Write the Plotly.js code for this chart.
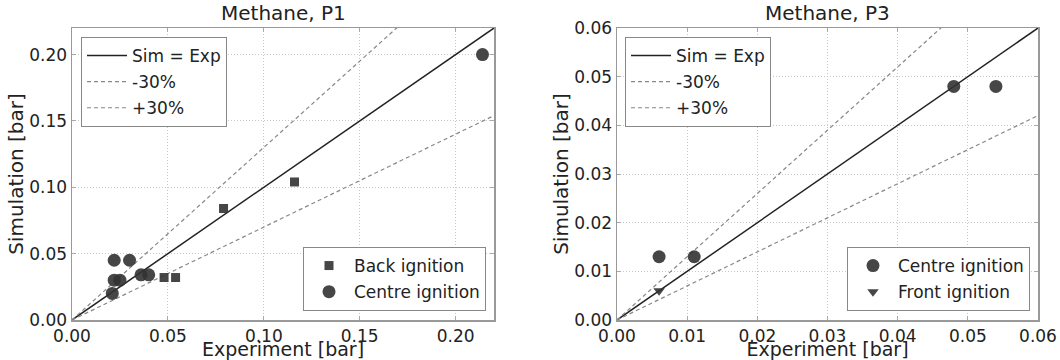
<!DOCTYPE html>
<html><head><meta charset="utf-8">
<script src="https://cdn.plot.ly/plotly-3.0.1.min.js"></script>
<style>html,body{margin:0;padding:0;background:#fff}#chart{width:1060px;height:360px}</style>
</head><body><div id="chart"></div>
<script>
// ---- Data: Methane, P1 ----
const p1BackX   = [0.048, 0.054, 0.079, 0.116];
const p1BackY   = [0.032, 0.032, 0.084, 0.104];
const p1CentreX = [0.022, 0.030, 0.022, 0.025, 0.021, 0.036, 0.040, 0.214];
const p1CentreY = [0.045, 0.045, 0.030, 0.030, 0.020, 0.034, 0.034, 0.200];
// ---- Data: Methane, P3 ----
const p3CentreX = [0.006, 0.011, 0.048, 0.054];
const p3CentreY = [0.013, 0.013, 0.048, 0.048];
const p3FrontX  = [0.006];
const p3FrontY  = [0.006];
// ---- Reference lines ----
const refNames  = ['Sim = Exp', '-30%', '+30%'];
const refRatios = [1.0, 0.7, 1.3];
const p1Range = [0, 0.22];
const p3Range = [0, 0.06];
const p1Ticks = [0, 0.05, 0.10, 0.15, 0.20];
const p3Ticks = [0, 0.01, 0.02, 0.03, 0.04, 0.05, 0.06];
const titles = ['Methane, P1', 'Methane, P3'];

const FONT = 'DejaVu Sans, sans-serif';
const MARK = 'rgba(50,50,50,0.9)';

function refTraces(range, xa, ya, legend) {
  return refRatios.map((r, i) => ({
    type: 'scatter', mode: 'lines', name: refNames[i],
    x: [range[0], range[1]], y: [range[0] * r, range[1] * r],
    xaxis: xa, yaxis: ya, legend: legend, legendgroup: legend + i,
    line: i === 0 ? {color: '#222', width: 1.5} : {color: '#888', width: 1.2, dash: '4px,3px'},
    hoverinfo: 'skip'
  }));
}

const traces = [
  ...refTraces(p1Range, 'x', 'y', 'legend'),
  {type: 'scatter', mode: 'markers', name: 'Back ignition', x: p1BackX, y: p1BackY,
   xaxis: 'x', yaxis: 'y', legend: 'legend2', legendgroup: 'b1',
   marker: {symbol: 'square', size: 9, color: MARK, line: {width: 0}}},
  {type: 'scatter', mode: 'markers', name: 'Centre ignition', x: p1CentreX, y: p1CentreY,
   xaxis: 'x', yaxis: 'y', legend: 'legend2', legendgroup: 'c1',
   marker: {symbol: 'circle', size: 13, color: MARK, line: {width: 0}}},
  ...refTraces(p3Range, 'x2', 'y2', 'legend3'),
  {type: 'scatter', mode: 'markers', name: 'Centre ignition', x: p3CentreX, y: p3CentreY,
   xaxis: 'x2', yaxis: 'y2', legend: 'legend4', legendgroup: 'c3',
   marker: {symbol: 'circle', size: 13, color: MARK, line: {width: 0}}},
  {type: 'scatter', mode: 'markers', name: 'Front ignition', x: p3FrontX, y: p3FrontY,
   xaxis: 'x2', yaxis: 'y2', legend: 'legend4', legendgroup: 'f3',
   marker: {symbol: 'triangle-down', size: 10, color: MARK, line: {width: 0}}}
];

function axis(domain, range, ticks, title, anchor, isX) {
  return {
    domain: domain, range: range, anchor: anchor,
    tickvals: ticks, ticktext: ticks.map(v => v.toFixed(2)),
    showgrid: true, gridcolor: '#c8c8c8', griddash: '1px,2px', gridwidth: 1,
    zeroline: false, showline: true, linecolor: '#999', linewidth: 1.5, mirror: 'ticks',
    ticks: 'inside', ticklen: 4, tickcolor: '#aaa',
    tickfont: {family: FONT, size: 17, color: '#222'},
    title: {text: title, font: {family: FONT, size: isX ? 19 : 20, color: '#222'}, standoff: 0},
    automargin: false, fixedrange: true
  };
}

const legendBase = {
  font: {family: FONT, size: 17, color: '#222'},
  bgcolor: '#fff', bordercolor: '#888', borderwidth: 1,
  tracegroupgap: 1, itemwidth: 40, xref: 'paper', yref: 'paper'
};

const layout = {
  width: 1060, height: 360,
  margin: {l: 0, r: 0, t: 0, b: 0},
  paper_bgcolor: '#fff', plot_bgcolor: '#fff',
  font: {family: FONT, color: '#222'},
  xaxis:  axis([72/1060, 494/1060], p1Range, p1Ticks, 'Experiment [bar]', 'y', true),
  yaxis:  axis([40/360, 332/360], p1Range, p1Ticks, 'Simulation [bar]', 'x', false),
  xaxis2: axis([617/1060, 1038/1060], p3Range, p3Ticks, 'Experiment [bar]', 'y2', true),
  yaxis2: axis([40/360, 332/360], p3Range, p3Ticks, 'Simulation [bar]', 'x2', false),
  legend:  Object.assign({}, legendBase, {x: 81/1060, y: 323/360, xanchor: 'left', yanchor: 'top'}),
  legend2: Object.assign({}, legendBase, {x: 486/1060, y: 49/360, xanchor: 'right', yanchor: 'bottom'}),
  legend3: Object.assign({}, legendBase, {x: 625/1060, y: 323/360, xanchor: 'left', yanchor: 'top'}),
  legend4: Object.assign({}, legendBase, {x: 1030/1060, y: 49/360, xanchor: 'right', yanchor: 'bottom'}),
  annotations: [
    {text: titles[0], xref: 'paper', yref: 'paper', x: 283/1060, y: 333/360, xanchor: 'center', yanchor: 'bottom',
     showarrow: false, font: {family: FONT, size: 20, color: '#222'}},
    {text: titles[1], xref: 'paper', yref: 'paper', x: 827/1060, y: 333/360, xanchor: 'center', yanchor: 'bottom',
     showarrow: false, font: {family: FONT, size: 20, color: '#222'}}
  ],
  showlegend: true
};

Plotly.newPlot('chart', traces, layout, {displayModeBar: false, staticPlot: true});
</script>
</body></html>
